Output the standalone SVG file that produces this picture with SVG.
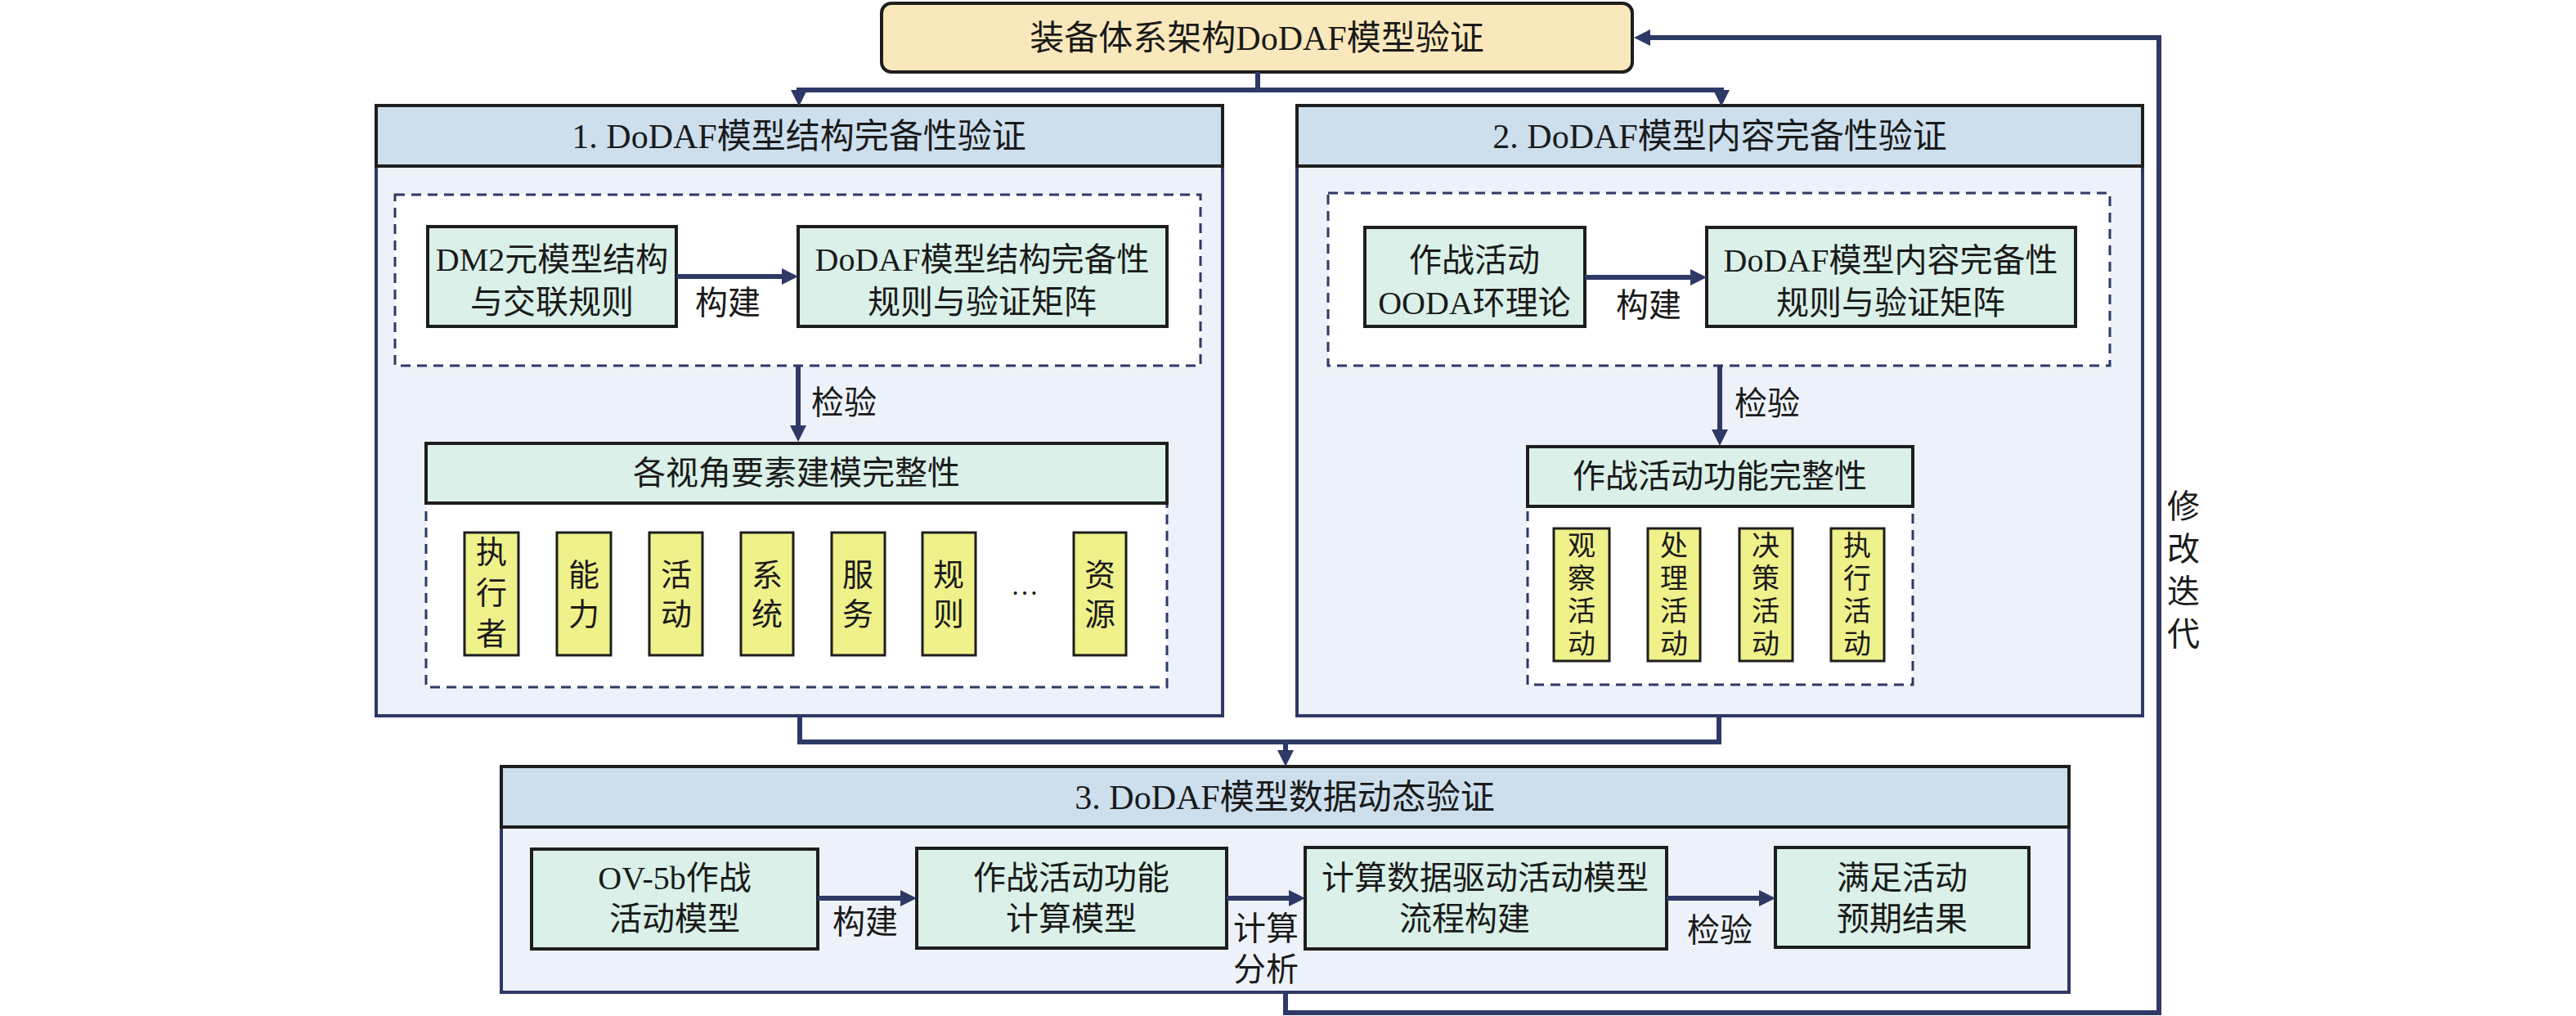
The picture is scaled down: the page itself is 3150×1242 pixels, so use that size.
<svg xmlns="http://www.w3.org/2000/svg" width="3150" height="1242" viewBox="0 0 3150 1242">
<style>
.t{font-family:"Liberation Serif","Noto Sans CJK SC",serif;fill:#1a1a1a;text-anchor:middle;font-size:40px}
.h{font-size:42px}
.s{font-size:38px}
.xs{font-size:34px}
.panel{fill:#edf2fa;stroke:#2e3966;stroke-width:4}
.head{fill:#cddfed;stroke:#1e1e1e;stroke-width:4}
.dash{fill:#ffffff;stroke:#2e3966;stroke-width:3;stroke-dasharray:12 8}
.g{fill:#daf0e8;stroke:#1e1e1e;stroke-width:4}
.y{fill:#eff18a;stroke:#1e1e1e;stroke-width:3}
.c{fill:none;stroke:#2e3966;stroke-width:6}
.ca{fill:none;stroke:#2e3966;stroke-width:6;marker-end:url(#ah)}
</style>
<defs>
<marker id="ah" markerUnits="userSpaceOnUse" viewBox="0 0 20 20" markerWidth="20" markerHeight="20" refX="1" refY="10" orient="auto">
<path d="M0,0 L20,10 L0,20 Z" fill="#2e3966"/>
</marker>
</defs>
<rect width="3150" height="1242" fill="#ffffff"/>

<g id="top">
<rect x="1078" y="4" width="918" height="84" rx="12" fill="#f9e8bb" stroke="#1e1e1e" stroke-width="4"/>
<text class="t" x="1537" y="61" style="font-size:42px">装备体系架构DoDAF模型验证</text>
</g>

<g id="panel1">
<rect class="panel" x="460" y="129" width="1035" height="746"/>
<rect class="head" x="460" y="129" width="1035" height="74"/>
<text class="t h" x="977" y="181">1. DoDAF模型结构完备性验证</text>
<rect class="dash" x="483" y="238" width="985" height="209"/>
<rect class="dash" x="521" y="615" width="906" height="225"/>
</g>

<g id="dm2">
<rect class="g" x="523" y="277" width="304" height="122"/>
<text class="t" x="675" y="331">DM2元模型结构</text>
<text class="t" x="675" y="383">与交联规则</text>
</g>
<g id="rules1">
<rect class="g" x="976" y="277" width="451" height="122"/>
<text class="t" x="1201" y="331">DoDAF模型结构完备性</text>
<text class="t" x="1201" y="383">规则与验证矩阵</text>
</g>
<g id="views">
<rect class="g" x="521" y="542" width="906" height="73"/>
<text class="t" x="974" y="592">各视角要素建模完整性</text>
</g>
<g id="elements">
<rect class="y" x="568" y="651" width="66" height="150"/>
<text class="t s" x="601" y="688">执</text><text class="t s" x="601" y="738">行</text><text class="t s" x="601" y="788">者</text>
<rect class="y" x="681" y="651" width="66" height="150"/>
<text class="t s" x="714" y="716">能</text><text class="t s" x="714" y="764">力</text>
<rect class="y" x="794" y="651" width="65" height="150"/>
<text class="t s" x="827" y="716">活</text><text class="t s" x="827" y="764">动</text>
<rect class="y" x="906" y="651" width="64" height="150"/>
<text class="t s" x="938" y="716">系</text><text class="t s" x="938" y="764">统</text>
<rect class="y" x="1017" y="651" width="65" height="150"/>
<text class="t s" x="1049" y="716">服</text><text class="t s" x="1049" y="764">务</text>
<rect class="y" x="1128" y="651" width="65" height="150"/>
<text class="t s" x="1160" y="716">规</text><text class="t s" x="1160" y="764">则</text>
<text class="t" x="1253" y="727" style="font-size:34px">…</text>
<rect class="y" x="1313" y="651" width="64" height="150"/>
<text class="t s" x="1345" y="716">资</text><text class="t s" x="1345" y="764">源</text>
</g>

<g id="panel2">
<rect class="panel" x="1586" y="129" width="1034" height="746"/>
<rect class="head" x="1586" y="129" width="1034" height="74"/>
<text class="t h" x="2103" y="181">2. DoDAF模型内容完备性验证</text>
<rect class="dash" x="1624" y="236" width="956" height="211"/>
<rect class="dash" x="1868" y="619" width="471" height="218"/>
</g>
<g id="ooda">
<rect class="g" x="1669" y="278" width="269" height="121"/>
<text class="t" x="1803" y="332">作战活动</text>
<text class="t" x="1803" y="384">OODA环理论</text>
</g>
<g id="rules2">
<rect class="g" x="2087" y="278" width="451" height="121"/>
<text class="t" x="2312" y="332">DoDAF模型内容完备性</text>
<text class="t" x="2312" y="384">规则与验证矩阵</text>
</g>
<g id="func">
<rect class="g" x="1868" y="546" width="471" height="73"/>
<text class="t" x="2103" y="596">作战活动功能完整性</text>
</g>
<g id="activities">
<rect class="y" x="1900" y="646" width="68" height="162"/>
<text class="t xs" x="1934" y="679">观</text><text class="t xs" x="1934" y="719">察</text><text class="t xs" x="1934" y="759">活</text><text class="t xs" x="1934" y="799">动</text>
<rect class="y" x="2015" y="646" width="64" height="162"/>
<text class="t xs" x="2047" y="679">处</text><text class="t xs" x="2047" y="719">理</text><text class="t xs" x="2047" y="759">活</text><text class="t xs" x="2047" y="799">动</text>
<rect class="y" x="2127" y="646" width="65" height="162"/>
<text class="t xs" x="2159" y="679">决</text><text class="t xs" x="2159" y="719">策</text><text class="t xs" x="2159" y="759">活</text><text class="t xs" x="2159" y="799">动</text>
<rect class="y" x="2239" y="646" width="65" height="162"/>
<text class="t xs" x="2271" y="679">执</text><text class="t xs" x="2271" y="719">行</text><text class="t xs" x="2271" y="759">活</text><text class="t xs" x="2271" y="799">动</text>
</g>

<g id="panel3">
<rect class="panel" x="613" y="937" width="1917" height="276"/>
<rect class="head" x="613" y="937" width="1917" height="74"/>
<text class="t h" x="1571" y="989">3. DoDAF模型数据动态验证</text>
</g>
<g id="ov5b">
<rect class="g" x="650" y="1038" width="350" height="122"/>
<text class="t" x="825" y="1087">OV-5b作战</text>
<text class="t" x="825" y="1137">活动模型</text>
</g>
<g id="calcmodel">
<rect class="g" x="1121" y="1037" width="379" height="122"/>
<text class="t" x="1310" y="1087">作战活动功能</text>
<text class="t" x="1310" y="1137">计算模型</text>
</g>
<g id="flow">
<rect class="g" x="1596" y="1036" width="442" height="124"/>
<text class="t" x="1816" y="1087">计算数据驱动活动模型</text>
<text class="t" x="1791" y="1137">流程构建</text>
</g>
<g id="result">
<rect class="g" x="2171" y="1036" width="310" height="122"/>
<text class="t" x="2326" y="1087">满足活动</text>
<text class="t" x="2326" y="1137">预期结果</text>
</g>

<g id="connectors">
<path class="ca" d="M1538 88 V110 H977 V111"/>
<path class="ca" d="M1538 110 H2105 V111"/>
<path class="c" d="M978 875 V907 H2102 V875"/>
<path class="ca" d="M1572 907 V918"/>
<path class="ca" d="M1572 1213 V1238 H2640 V46 H2017"/>
<path class="ca" d="M827 338 H957"/>
<path class="ca" d="M976 447 V521"/>
<path class="ca" d="M1938 339 H2068"/>
<path class="ca" d="M2103 447 V526"/>
<path class="ca" d="M1000 1098 H1102"/>
<path class="ca" d="M1500 1098 H1577"/>
<path class="ca" d="M2038 1098 H2152"/>
<text class="t" x="890" y="384">构建</text>
<text class="t" x="1032" y="506">检验</text>
<text class="t" x="2016" y="387">构建</text>
<text class="t" x="2161" y="507">检验</text>
<text class="t" x="1058" y="1141">构建</text>
<text class="t" x="1548" y="1149">计算</text>
<text class="t" x="1548" y="1199">分析</text>
<text class="t" x="2103" y="1151">检验</text>
<text class="t" x="2670" y="633">修</text>
<text class="t" x="2670" y="685">改</text>
<text class="t" x="2670" y="737">迭</text>
<text class="t" x="2670" y="789">代</text>
</g>
</svg>
